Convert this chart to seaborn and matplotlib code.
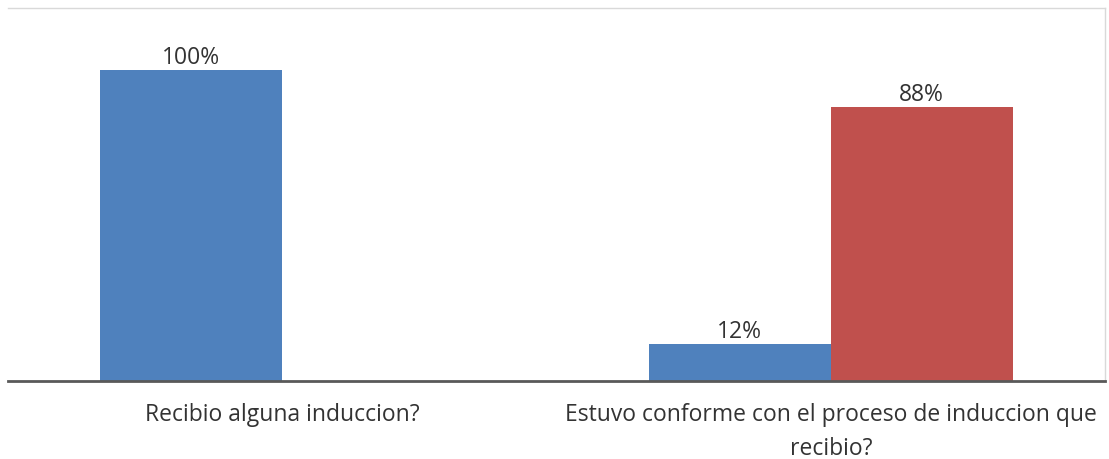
import matplotlib
matplotlib.use('Agg')
import matplotlib.pyplot as plt
import seaborn as sns
import pandas as pd

# datos de la encuesta
preguntas = ['Recibio alguna induccion?',
             'Estuvo conforme con el proceso de induccion que\nrecibio?']
respuestas = ['Si', 'No']
valores_si = [1.00, 0.12]
valores_no = [0.00, 0.88]

df = pd.DataFrame({
    'pregunta': preguntas * 2,
    'respuesta': [respuestas[0]] * 2 + [respuestas[1]] * 2,
    'valor': valores_si + valores_no,
})

sns.set_style('white')
plt.rcParams['font.family'] = ['Open Sans', 'DejaVu Sans']

fig = plt.figure(figsize=(11.09, 4.59), dpi=100)
ax = fig.add_axes([8 / 1109, 78 / 459, 1097 / 1109, 373 / 459])

sns.barplot(data=df, x='pregunta', y='valor', hue='respuesta',
            palette=['#4F81BD', '#C0504D'], width=0.664, saturation=1,
            linewidth=0, legend=False, ax=ax)

# etiquetas de porcentaje (no se muestran los ceros)
for cont in ax.containers:
    etiquetas = [f'{v * 100:.0f}%' if v > 0 else '' for v in cont.datavalues]
    ax.bar_label(cont, labels=etiquetas, padding=0, fontsize=16.5, color='#333333')

ax.set_ylim(0, 1.2)
ax.set_xlim(-0.5, 1.5)
ax.set_xlabel('')
ax.set_ylabel('')
ax.set_yticks([])
ax.tick_params(axis='x', length=0, pad=16, labelsize=16.5, colors='#333333')
for lbl in ax.get_xticklabels():
    lbl.set_linespacing(1.55)

for s in ['top', 'right']:
    ax.spines[s].set_color('#D9D9D9')
    ax.spines[s].set_linewidth(1)
ax.spines['left'].set_visible(False)
ax.spines['bottom'].set_color('#595959')
ax.spines['bottom'].set_linewidth(2)

fig.savefig('out.png', dpi=100)
